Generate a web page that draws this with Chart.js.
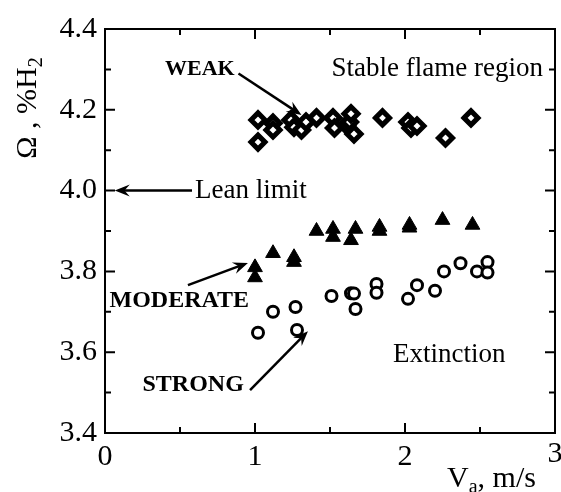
<!DOCTYPE html>
<html>
<head>
<meta charset="utf-8">
<script src="https://cdn.jsdelivr.net/npm/chart.js@4.4.1/dist/chart.umd.min.js"></script>
<style>
  html, body { margin: 0; padding: 0; background: #fff; }
</style>
</head>
<body>
<canvas id="chart" width="561" height="492"></canvas>
<script>
// air velocity V_a (m/s) and lean limit Ω (%H2) for each swirl level
const weakX = [1.02, 1.02, 1.12, 1.12, 1.24, 1.26, 1.31, 1.34, 1.41, 1.52, 1.53, 1.61, 1.63, 1.64, 1.66, 1.85, 2.02, 2.04, 2.08, 2.27, 2.44];
const weakY = [4.175, 4.12, 4.167, 4.15, 4.175, 4.157, 4.15, 4.17, 4.18, 4.18, 4.155, 4.162, 4.17, 4.19, 4.14, 4.18, 4.17, 4.155, 4.16, 4.13, 4.18];

const moderateX = [1.0, 1.0, 1.12, 1.26, 1.26, 1.41, 1.52, 1.52, 1.64, 1.67, 1.83, 1.83, 2.03, 2.03, 2.25, 2.45];
const moderateY = [3.81, 3.785, 3.845, 3.835, 3.823, 3.90, 3.905, 3.885, 3.877, 3.905, 3.91, 3.90, 3.915, 3.908, 3.927, 3.915];

const strongX = [1.02, 1.12, 1.27, 1.28, 1.51, 1.64, 1.66, 1.67, 1.81, 1.81, 2.02, 2.08, 2.20, 2.26, 2.37, 2.48, 2.55, 2.55];
const strongY = [3.648, 3.70, 3.712, 3.655, 3.739, 3.746, 3.745, 3.707, 3.769, 3.747, 3.732, 3.766, 3.752, 3.80, 3.82, 3.80, 3.823, 3.797];

// axis ticks
const xMajor = [0, 1, 2, 3];
const xMinor = [0.5, 1.5, 2.5];
const yMajor = [3.4, 3.6, 3.8, 4.0, 4.2, 4.4];
const yMinor = [3.5, 3.7, 3.9, 4.1, 4.3];

const serif = '"Liberation Serif", "Times New Roman", serif';

// text labels and arrows, placed in data units
const notes = [
  { text: "Stable flame region", x: 2.92, y: 4.3, align: "right", font: "27px " + serif },
  { text: "WEAK", x: 0.4, y: 4.3, align: "left", font: "bold 22px " + serif },
  { text: "Lean limit", x: 0.6, y: 4.0, align: "left", font: "27px " + serif },
  { text: "MODERATE", x: 0.03, y: 3.727, align: "left", font: "bold 24px " + serif },
  { text: "STRONG", x: 0.25, y: 3.52, align: "left", font: "bold 24px " + serif },
  { text: "Extinction", x: 1.92, y: 3.593, align: "left", font: "27px " + serif },
];
const arrows = [
  { from: [0.89, 4.29], to: [1.31, 4.187] },
  { from: [0.58, 4.0], to: [0.065, 4.0] },
  { from: [0.553, 3.766], to: [0.953, 3.821] },
  { from: [0.967, 3.506], to: [1.353, 3.652] },
];

function toPoints(xs, ys) {
  return xs.map((x, i) => ({ x, y: ys[i] }));
}

function drawArrow(ctx, x1, y1, x2, y2) {
  const ang = Math.atan2(y2 - y1, x2 - x1);
  const len = 15, wing = 6;
  ctx.beginPath();
  ctx.moveTo(x1, y1);
  ctx.lineTo(x2 - Math.cos(ang) * 8, y2 - Math.sin(ang) * 8);
  ctx.stroke();
  ctx.save();
  ctx.translate(x2, y2);
  ctx.rotate(ang);
  ctx.beginPath();
  ctx.moveTo(0, 0);
  ctx.lineTo(-len, -wing);
  ctx.lineTo(-len * 0.65, 0);
  ctx.lineTo(-len, wing);
  ctx.closePath();
  ctx.fill();
  ctx.restore();
}

const decorations = {
  id: "decorations",
  afterDraw(chart) {
    const { ctx, chartArea: a, scales: { x, y } } = chart;
    ctx.save();
    ctx.strokeStyle = "#000";
    ctx.fillStyle = "#000";

    // frame
    ctx.lineWidth = 2;
    ctx.strokeRect(a.left, a.top, a.right - a.left, a.bottom - a.top);

    // inward ticks on all four sides
    const tick = (vals, len) => {
      vals.forEach((v) => {
        const px = x.getPixelForValue(v);
        ctx.beginPath();
        ctx.moveTo(px, a.bottom); ctx.lineTo(px, a.bottom - len);
        ctx.moveTo(px, a.top); ctx.lineTo(px, a.top + len);
        ctx.stroke();
      });
    };
    const tickY = (vals, len) => {
      vals.forEach((v) => {
        const py = y.getPixelForValue(v);
        ctx.beginPath();
        ctx.moveTo(a.left, py); ctx.lineTo(a.left + len, py);
        ctx.moveTo(a.right, py); ctx.lineTo(a.right - len, py);
        ctx.stroke();
      });
    };
    tick(xMajor, 10); tick(xMinor, 6);
    tickY(yMajor, 10); tickY(yMinor, 6);

    // last x tick label sits at the canvas edge (cut off, as in the original)
    ctx.font = "30px " + serif;
    ctx.textAlign = "center";
    ctx.textBaseline = "top";
    ctx.fillText("3", x.getPixelForValue(3), a.bottom + 6);

    // annotations
    ctx.textBaseline = "middle";
    notes.forEach((n) => {
      ctx.font = n.font;
      ctx.textAlign = n.align;
      ctx.fillText(n.text, x.getPixelForValue(n.x), y.getPixelForValue(n.y));
    });
    ctx.lineWidth = 2.5;
    arrows.forEach((ar) => {
      drawArrow(ctx,
        x.getPixelForValue(ar.from[0]), y.getPixelForValue(ar.from[1]),
        x.getPixelForValue(ar.to[0]), y.getPixelForValue(ar.to[1]));
    });

    // axis titles with subscripts
    ctx.textAlign = "left";
    ctx.textBaseline = "alphabetic";
    ctx.font = "30px " + serif;
    let tx = 447, ty = 487;
    ctx.fillText("V", tx, ty);
    tx += ctx.measureText("V").width;
    ctx.font = "20px " + serif;
    ctx.fillText("a", tx, ty + 6);
    tx += ctx.measureText("a").width;
    ctx.font = "30px " + serif;
    ctx.fillText(", m/s", tx, ty);

    ctx.save();
    ctx.translate(36, 108);
    ctx.rotate(-Math.PI / 2);
    const main = "\u03A9 , %H";
    ctx.font = "30px " + serif;
    const w1 = ctx.measureText(main).width;
    ctx.font = "20px " + serif;
    const w2 = ctx.measureText("2").width;
    const sx = -(w1 + w2) / 2;
    ctx.font = "30px " + serif;
    ctx.fillText(main, sx, 0);
    ctx.font = "20px " + serif;
    ctx.fillText("2", sx + w1, 6);
    ctx.restore();

    ctx.restore();
  },
};

new Chart(document.getElementById("chart"), {
  type: "scatter",
  data: {
    datasets: [
      {
        label: "WEAK",
        data: toPoints(weakX, weakY),
        pointStyle: "rectRot",
        pointRadius: 7,
        borderWidth: 5,
        borderColor: "#000",
        backgroundColor: "#fff",
      },
      {
        label: "MODERATE",
        data: toPoints(moderateX, moderateY),
        pointStyle: "triangle",
        pointRadius: 8.5,
        borderWidth: 1,
        borderColor: "#000",
        backgroundColor: "#000",
      },
      {
        label: "STRONG",
        data: toPoints(strongX, strongY),
        pointStyle: "circle",
        pointRadius: 5.5,
        borderWidth: 3,
        borderColor: "#000",
        backgroundColor: "#fff",
      },
    ],
  },
  options: {
    responsive: false,
    animation: false,
    devicePixelRatio: 1,
    layout: { autoPadding: false, padding: { top: 29, right: 6, left: 0, bottom: 0 } },
    plugins: { legend: { display: false }, tooltip: { enabled: false } },
    scales: {
      x: {
        type: "linear",
        min: 0,
        max: 3,
        grid: { display: false, drawTicks: false },
        border: { display: false },
        ticks: {
          stepSize: 1,
          autoSkip: false,
          maxRotation: 0,
          padding: 6,
          color: "#000",
          font: { family: serif, size: 30 },
          callback: (v) => (v === 3 ? "" : String(v)),
        },
        afterFit: (s) => { s.height = 59; },
      },
      y: {
        type: "linear",
        min: 3.4,
        max: 4.4,
        grid: { display: false, drawTicks: false },
        border: { display: false },
        ticks: {
          stepSize: 0.2,
          autoSkip: false,
          padding: 8,
          color: "#000",
          font: { family: serif, size: 30 },
          callback: (v) => Number(v).toFixed(1),
        },
        afterFit: (s) => { s.width = 105; },
      },
    },
  },
  plugins: [decorations],
});
</script>
</body>
</html>
